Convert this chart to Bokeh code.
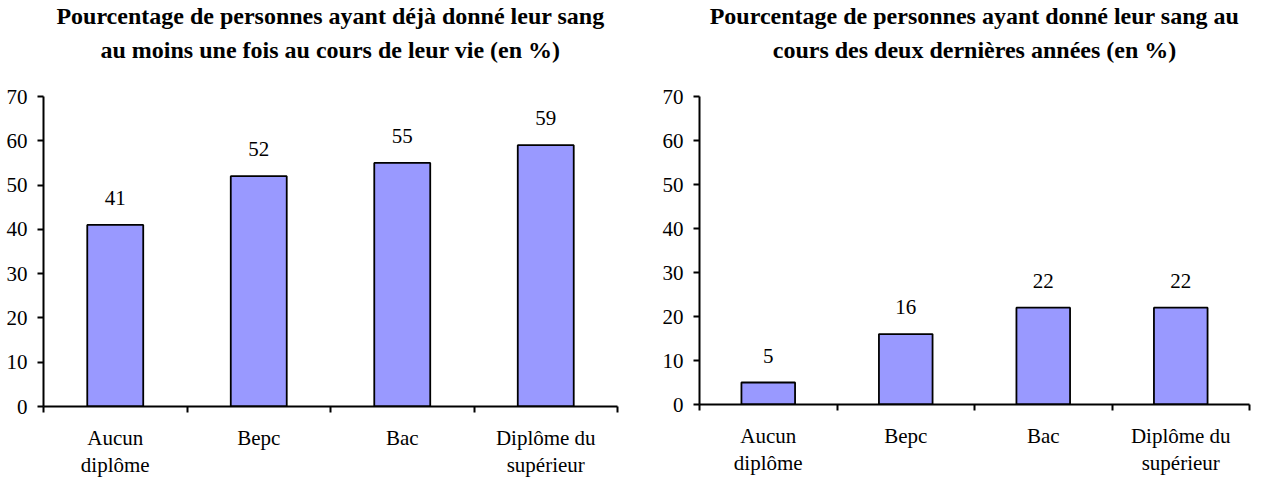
from bokeh.plotting import figure
from bokeh.layouts import row
from bokeh.models import ColumnDataSource, FixedTicker, Range1d, Title
from bokeh.core.properties import value
from bokeh.embed import file_html
from bokeh.resources import INLINE

categories = ["Aucun\ndiplôme", "Bepc", "Bac", "Diplôme du\nsupérieur"]
vie_values = [41, 52, 55, 59]
recent_values = [5, 16, 22, 22]
y_ticks = [0, 10, 20, 30, 40, 50, 60, 70]
title_left = ["Pourcentage de personnes ayant déjà donné leur sang",
              "au moins une fois au cours de leur vie (en %)"]
title_right = ["Pourcentage de personnes ayant donné leur sang au",
               "cours des deux dernières années (en %)"]

FONT = "'Liberation Serif', 'Times New Roman', serif"
FS = "21px"
TFS = "24px"


def make(values, title, width, height, bl, br, bb, bt):
    n = len(categories)
    xs = [i + 0.5 for i in range(n)]
    src = ColumnDataSource(dict(x=xs, top=values, lbl=[str(v) for v in values]))
    p = figure(width=width, height=height, output_backend="svg", toolbar_location=None,
               x_range=Range1d(0, n), y_range=Range1d(0, 70),
               min_border_left=bl, min_border_right=br, min_border_bottom=bb, min_border_top=bt)
    # outermost title line
    p.title.text = title[0]
    p.title.align = "center"
    p.title.text_font = FONT
    p.title.text_font_size = TFS
    p.title.text_font_style = "bold"
    p.title.text_color = "black"
    p.title.standoff = 0
    # spacer nearest the plot, then inner title line
    spacer = Title(text=" ", text_font_size="1px", standoff=25)
    p.add_layout(spacer, "above")
    t2 = Title(text=title[1], align="center", text_font=FONT, text_font_size=TFS,
               text_font_style="bold", text_color="black", standoff=12)
    p.add_layout(t2, "above")
    p.outline_line_color = None
    p.xgrid.visible = False
    p.ygrid.visible = False
    p.vbar(x="x", top="top", width=0.39, source=src, fill_color="#9999FF",
           line_color="black", line_width=1.8)
    p.text(x="x", y="top", text="lbl", source=src, text_align="center", text_baseline="middle",
           y_offset=-27, text_font=value(FONT), text_font_size=FS, text_color="black")
    xa = p.xaxis[0]
    xa.ticker = FixedTicker(ticks=xs, minor_ticks=list(range(n + 1)))
    xa.major_label_overrides = {x: c for x, c in zip(xs, categories)}
    xa.major_tick_line_color = None
    xa.minor_tick_in = 0
    xa.minor_tick_out = 6
    xa.minor_tick_line_width = 2
    xa.minor_tick_line_color = "black"
    xa.axis_line_width = 2
    xa.axis_line_color = "black"
    xa.major_label_text_font = FONT
    xa.major_label_text_font_size = FS
    xa.major_label_text_color = "black"
    xa.major_label_text_line_height = 1.125
    xa.major_label_standoff = 13
    ya = p.yaxis[0]
    ya.ticker = FixedTicker(ticks=y_ticks)
    ya.minor_tick_line_color = None
    ya.major_tick_in = 0
    ya.major_tick_out = 6
    ya.major_tick_line_width = 2
    ya.axis_line_width = 2
    ya.axis_line_color = "black"
    ya.major_label_text_font = FONT
    ya.major_label_text_font_size = FS
    ya.major_label_text_color = "black"
    ya.major_label_standoff = 10
    return p


p1 = make(vie_values, title_left, 632, 479, 43, 15, 68, 10)
p2 = make(recent_values, title_right, 625, 477, 67, 8, 71, 10)
layout = row(p1, p2)
open("out.html", "w").write(file_html(layout, INLINE))
